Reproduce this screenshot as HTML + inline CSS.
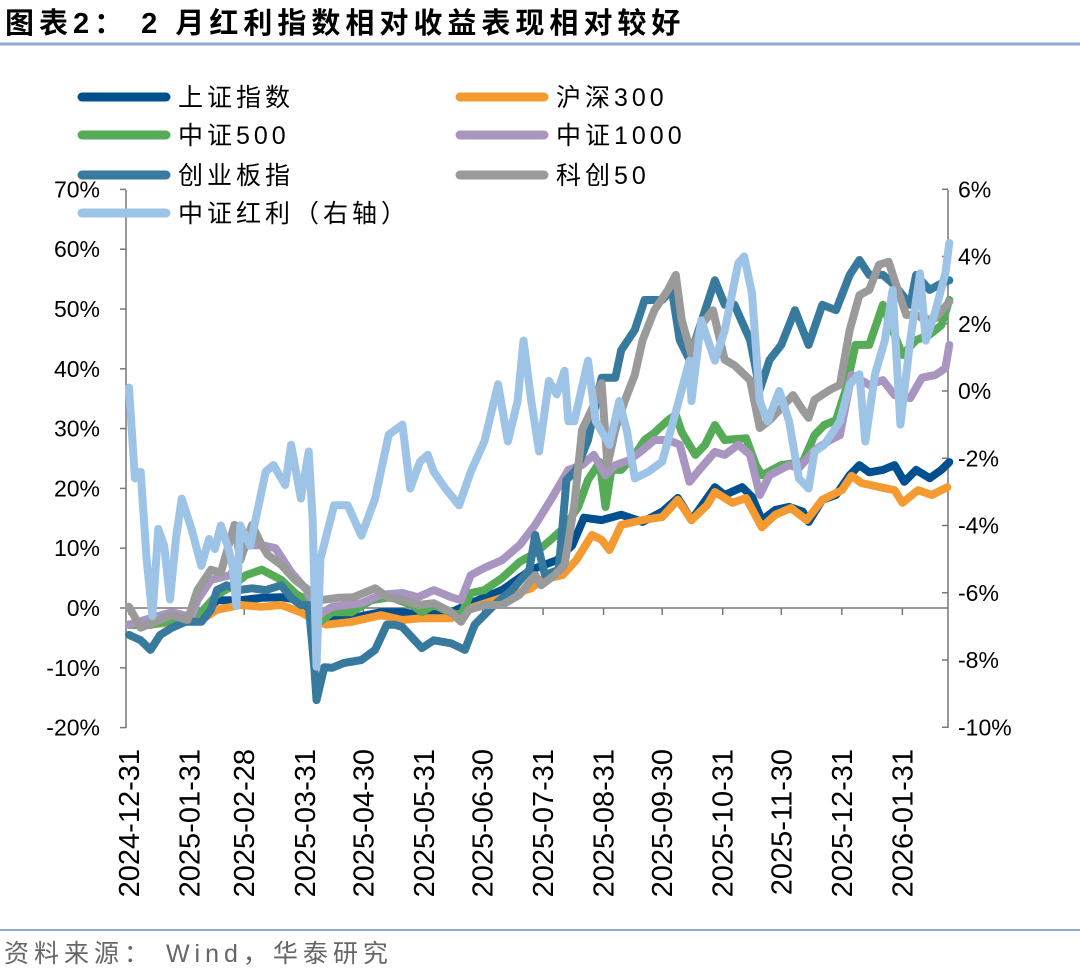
<!DOCTYPE html>
<html><head><meta charset="utf-8">
<style>
html,body{margin:0;padding:0;background:#fff;}
body{width:1080px;height:971px;overflow:hidden;font-family:"Liberation Sans","Noto Sans CJK SC",sans-serif;}
</style></head>
<body>
<svg id="chart" width="1080" height="971" viewBox="0 0 1080 971" xmlns="http://www.w3.org/2000/svg">
<text x="5" y="33" font-size="29" font-weight="bold" letter-spacing="5" fill="#000" font-family="'Liberation Sans','Noto Sans CJK SC',sans-serif">图表2：  2 月红利指数相对收益表现相对较好</text>
<line x1="0" y1="44" x2="1080" y2="44" stroke="#8eaad0" stroke-width="3"/>
<line x1="0" y1="930" x2="1080" y2="930" stroke="#8eaad0" stroke-width="2"/>
<text x="4" y="962" font-size="25" letter-spacing="5" fill="#666" font-family="'Liberation Sans','Noto Sans CJK SC',sans-serif">资料来源：  Wind，华泰研究</text>
<g id="axes"></g>
<g id="series"></g>
<g id="legend"></g>
</svg>
<script>
const monthTicks = ["2024-12-31","2025-01-31","2025-02-28","2025-03-31","2025-04-30","2025-05-31","2025-06-30","2025-07-31","2025-08-31","2025-09-30","2025-10-31","2025-11-30","2025-12-31","2026-01-31"];
const monthTickDays = [0,31,59,90,120,151,181,212,243,273,304,334,365,396];
const leftTicks = [70,60,50,40,30,20,10,0,-10,-20];
const rightTicks = [6,4,2,0,-2,-4,-6,-8,-10];
const seriesNames = ["上证指数","沪深300","中证500","中证1000","创业板指","科创50","中证红利（右轴）"];

const shIndex = [[0,-2.8],[11,-2.8],[22,-2.0],[37,-1.7],[45,1.3],[57,1.3],[68,1.7],[78,1.8],[88,1.3],[95,-1.2],[101,-2.0],[114,-1.7],[129,-0.7],[140,-0.7],[150,-1.2],[165,-0.7],[175,0.8],[191,3.0],[206,6.4],[219,8.0],[227,10.5],[233,15.1],[242,14.7],[252,15.6],[263,14.4],[273,16.1],[281,18.4],[288,14.7],[300,20.2],[305,18.9],[314,20.2],[319,18.6],[324,14.7],[331,16.4],[338,16.9],[345,16.1],[348,14.4],[355,18.1],[362,18.9],[369,22.2],[374,23.9],[379,22.7],[386,23.1],[392,23.9],[397,21.1],[403,23.1],[410,21.7],[416,23.1],[420,24.4]];
const hs300 = [[0,-2.8],[11,-2.8],[24,-2.3],[37,-2.0],[45,-0.3],[57,0.5],[68,0.2],[78,0.5],[88,-0.7],[95,-2.0],[101,-2.8],[114,-2.3],[129,-1.2],[140,-2.0],[150,-1.7],[165,-1.7],[175,0.0],[191,1.7],[206,3.3],[211,4.7],[222,5.5],[229,8.0],[237,12.2],[242,11.4],[246,9.7],[252,13.9],[263,14.7],[273,15.2],[281,18.1],[288,14.7],[296,17.2],[300,19.4],[309,17.6],[316,18.4],[324,13.5],[331,15.6],[339,16.7],[347,14.7],[355,18.1],[365,19.7],[370,22.1],[375,20.9],[386,20.1],[392,19.7],[396,17.6],[404,19.7],[411,18.9],[419,20.2]];
const zz500 = [[0,-2.8],[11,-2.8],[24,-2.0],[37,-0.7],[45,2.2],[52,3.5],[60,5.5],[68,6.4],[78,4.7],[86,2.2],[92,1.3],[96,-2.8],[104,-0.7],[114,-0.7],[124,1.3],[134,1.8],[145,0.5],[150,-0.7],[156,0.5],[165,-0.8],[170,-1.2],[175,2.5],[182,3.0],[191,5.0],[200,7.7],[208,9.2],[216,11.4],[223,13.5],[230,16.9],[235,21.4],[241,24.4],[244,16.9],[247,23.1],[252,23.1],[259,25.6],[264,28.1],[269,29.3],[276,31.4],[280,32.3],[283,29.4],[290,25.6],[295,27.3],[300,30.6],[305,28.1],[316,28.4],[321,23.9],[324,22.2],[334,23.9],[345,24.4],[351,28.9],[356,30.6],[362,31.4],[367,36.5],[372,44.0],[379,44.0],[386,50.7],[391,46.5],[396,42.3],[403,44.8],[410,45.7],[416,47.3],[420,51.5]];
const zz1000 = [[0,-2.8],[11,-1.7],[22,-0.7],[32,-1.5],[35,1.3],[42,4.7],[52,5.5],[60,10.5],[68,10.5],[75,10.0],[83,6.0],[91,3.0],[97,-1.2],[104,0.2],[119,0.8],[129,2.2],[140,2.5],[148,1.8],[156,3.0],[165,1.8],[170,1.3],[175,5.5],[182,6.7],[191,8.0],[200,10.5],[208,13.9],[216,18.1],[225,23.1],[232,23.9],[238,25.6],[244,22.2],[249,23.9],[256,24.7],[263,26.4],[269,28.1],[276,28.1],[282,27.3],[287,21.1],[292,23.1],[300,26.1],[305,25.6],[312,27.3],[318,25.6],[323,18.9],[328,22.2],[338,23.9],[343,23.4],[351,26.4],[359,28.1],[364,28.9],[370,39.0],[379,37.3],[386,38.1],[392,35.6],[400,35.1],[406,38.5],[413,39.0],[418,40.1],[420,44.0]];
const cyb = [[0,-4.5],[6,-5.4],[11,-7.0],[16,-4.5],[22,-3.3],[29,-2.3],[37,-2.3],[42,-0.3],[45,3.0],[50,3.8],[56,3.0],[63,3.3],[70,3.0],[78,3.8],[83,1.7],[88,0.5],[92,0.5],[95,-10.4],[96,-15.4],[100,-9.9],[104,-10.0],[110,-9.2],[119,-8.7],[126,-7.0],[132,-2.8],[136,-2.8],[140,-3.2],[150,-6.7],[156,-5.4],[165,-5.9],[172,-7.0],[177,-2.8],[187,0.5],[196,3.0],[205,6.4],[208,12.2],[213,5.5],[220,6.4],[224,21.4],[229,23.1],[235,28.1],[242,38.5],[249,38.5],[252,43.1],[259,46.5],[264,51.5],[273,51.5],[278,53.2],[282,44.8],[287,41.5],[290,44.8],[295,49.8],[300,54.8],[305,50.7],[310,50.7],[318,44.8],[323,36.5],[328,41.5],[334,44.0],[341,49.8],[348,44.0],[355,50.7],[362,49.8],[369,55.7],[374,58.2],[379,55.7],[386,55.7],[392,54.0],[400,50.7],[403,55.7],[410,53.2],[416,54.3],[420,54.8]];
const kc50 = [[0,0.2],[6,-3.3],[22,-1.2],[30,-2.0],[35,3.0],[42,6.4],[47,5.9],[54,13.9],[57,8.0],[63,13.9],[68,10.5],[71,8.9],[78,7.2],[85,4.7],[92,3.0],[98,1.3],[107,1.7],[115,1.8],[126,3.3],[133,1.7],[141,1.3],[148,0.5],[156,0.8],[165,-0.7],[170,-2.3],[174,-0.3],[182,0.5],[191,0.5],[200,2.2],[208,5.5],[211,3.8],[218,5.5],[223,7.2],[228,17.2],[232,29.8],[238,33.9],[242,37.6],[245,23.9],[249,29.8],[254,34.8],[259,39.0],[263,44.8],[269,49.8],[276,53.2],[280,55.7],[283,48.2],[288,42.3],[293,47.3],[299,49.8],[305,41.5],[310,40.6],[318,38.1],[323,30.1],[328,31.4],[333,33.1],[340,35.6],[345,33.1],[348,31.8],[351,34.8],[359,36.5],[364,37.3],[369,46.5],[374,52.3],[379,53.2],[384,57.4],[389,57.9],[392,54.8],[398,49.0],[403,49.0],[408,48.2],[413,48.5],[420,51.2]];
const dividend = [[0,0.1],[3,-2.6],[6,-2.4],[9,-5.0],[12,-6.7],[15,-4.1],[18,-4.6],[21,-6.2],[24,-4.4],[27,-3.2],[32,-4.1],[37,-5.2],[41,-4.4],[44,-4.7],[47,-4.0],[51,-4.7],[53,-5.2],[55,-6.4],[57,-4.0],[62,-4.6],[66,-3.5],[70,-2.4],[74,-2.2],[80,-2.8],[83,-1.6],[88,-3.2],[92,-1.8],[94,-3.8],[96,-8.2],[98,-5.0],[105,-3.4],[112,-3.4],[119,-4.3],[126,-3.2],[133,-1.3],[140,-1.0],[144,-2.9],[149,-2.1],[153,-1.9],[156,-2.4],[162,-2.9],[169,-3.4],[175,-2.4],[182,-1.5],[189,0.2],[194,-1.5],[199,-0.3],[202,1.5],[206,-0.3],[210,-1.8],[215,0.3],[219,-0.1],[223,0.6],[225,-0.9],[228,-0.9],[235,0.9],[239,-0.9],[246,-1.6],[251,-0.3],[255,-1.2],[259,-2.6],[266,-2.4],[273,-2.1],[281,-0.4],[287,0.9],[288,-0.3],[293,2.1],[300,0.9],[305,1.8],[312,3.8],[315,4.0],[319,2.9],[323,-0.3],[327,-0.9],[333,0.0],[338,-0.9],[343,-2.6],[348,-2.9],[351,-1.8],[356,-1.6],[364,-0.9],[369,0.2],[374,0.5],[377,-1.5],[382,0.5],[387,1.5],[391,3.0],[395,-1.0],[400,1.5],[405,3.5],[408,1.5],[413,2.4],[418,3.5],[420,4.4]];

const NS="http://www.w3.org/2000/svg";
const X0=129, PXD=1.953;
const xS=d=>X0+d*PXD;
const yL=v=>608-v*5.98;
const yR=v=>391-v*33.625;
function mk(tag,attrs,parent){const e=document.createElementNS(NS,tag);for(const k in attrs)e.setAttribute(k,attrs[k]);parent.appendChild(e);return e;}
const axes=document.getElementById('axes');
const FONT="'Liberation Sans','Noto Sans CJK SC',sans-serif";

let e=mk('line',{x1:126,y1:190,x2:126,y2:728,stroke:'#777','stroke-width':1.5},axes);


leftTicks.forEach(v=>{
  const y=yL(v);
  mk('line',{x1:120,y1:y,x2:126,y2:y,stroke:'#777','stroke-width':1.5},axes);
  const t=mk('text',{x:100,y:y+8,'text-anchor':'end','font-size':23,fill:'#000','font-family':FONT},axes);
  t.textContent=v+'%';
  
  
});
e=mk('line',{x1:948,y1:190,x2:948,y2:728,stroke:'#777','stroke-width':1.5},axes);


rightTicks.forEach(v=>{
  const y=yR(v);
  mk('line',{x1:942,y1:y,x2:948,y2:y,stroke:'#777','stroke-width':1.5},axes);
  const t=mk('text',{x:958,y:y+8,'text-anchor':'start','font-size':23,fill:'#000','font-family':FONT},axes);
  t.textContent=v+'%';
  
  
});
e=mk('line',{x1:126,y1:yL(0),x2:948,y2:yL(0),stroke:'#777','stroke-width':1.5},axes);


monthTicks.forEach((lab,i)=>{
  const x=xS(monthTickDays[i]);
  mk('line',{x1:x,y1:yL(0),x2:x,y2:yL(0)+7,stroke:'#777','stroke-width':1.5},axes);
  const t=mk('text',{x:0,y:0,'text-anchor':'end','font-size':29,fill:'#000','font-family':FONT,transform:`translate(${x+10},749) rotate(-90)`},axes);
  t.textContent=lab;
  
  
});

const colors=["#00508f","#f59a30","#56ab57","#a895c0","#387a9e","#9a9a9a","#9dc4e7"];
const datasets=[shIndex,hs300,zz500,zz1000,cyb,kc50,dividend];
const seriesKeys=["series-shanghai","series-csi300","series-csi500","series-csi1000","series-chinext","series-star50","series-dividend"];
const sg=document.getElementById('series');
datasets.forEach((data,i)=>{
  const yf=i===6?yR:yL;
  const d=data.map((p,j)=>(j?'L':'M')+xS(p[0]).toFixed(1)+','+yf(p[1]).toFixed(1)).join(' ');
  const p=mk('path',{d:d,fill:'none',stroke:colors[i],'stroke-width':8,'stroke-linejoin':'round','stroke-linecap':'round'},sg);
  
  
});

const lg=document.getElementById('legend');
const legPos=[[80,97],[458,97],[80,135],[458,135],[80,175],[458,175],[80,213]];
seriesNames.forEach((n,i)=>{
  const [x,y]=legPos[i];
  const g=mk('g',{},lg);
  
  
  mk('line',{x1:x+2,y1:y,x2:x+86,y2:y,stroke:colors[i],'stroke-width':9,'stroke-linecap':'round'},g);
  const t=mk('text',{x:x+98,y:y+9,'font-size':25,fill:'#000','font-family':FONT,'letter-spacing':4},g);
  t.textContent=n;
});
</script>
</body></html>
